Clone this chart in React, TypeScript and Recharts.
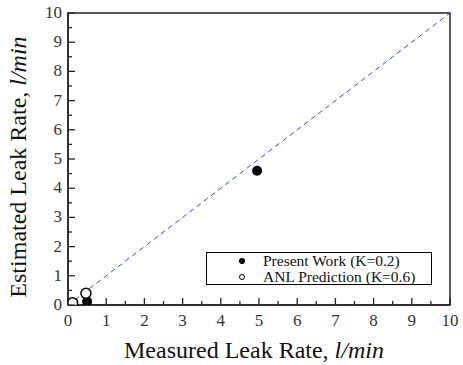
import React from "react";
import {
  ScatterChart,
  Scatter,
  XAxis,
  YAxis,
  ReferenceArea,
} from "recharts";

const allTicks = [0, 0.5, 1, 1.5, 2, 2.5, 3, 3.5, 4, 4.5, 5, 5.5, 6, 6.5, 7, 7.5, 8, 8.5, 9, 9.5, 10];

const presentWork = [
  { x: 0.5, y: 0.12 },
  { x: 4.95, y: 4.6 },
];
const anlPrediction = [
  { x: 0.12, y: 0.08 },
  { x: 0.47, y: 0.4 },
];
const idealLine = [
  { x: 0, y: 0 },
  { x: 10, y: 10 },
];

const serif = "'Liberation Serif', 'DejaVu Serif', serif";

function XTick(props: any) {
  const { x, y, payload } = props;
  const v = payload.value;
  const major = Number.isInteger(v);
  return (
    <g>
      <line x1={x} x2={x} y1={y} y2={y - (major ? 7 : 4)} stroke="#222" strokeWidth={1.3} />
      {major && (
        <text x={x} y={y + 21} textAnchor="middle" style={{ fontFamily: serif }} fontSize={17} fill="#333">
          {v}
        </text>
      )}
    </g>
  );
}

function YTick(props: any) {
  const { x, y, payload } = props;
  const v = payload.value;
  const major = Number.isInteger(v);
  return (
    <g>
      <line x1={x} x2={x + (major ? 7 : 4)} y1={y} y2={y} stroke="#222" strokeWidth={1.3} />
      {major && (
        <text x={x - 6} y={y + 5} textAnchor="end" style={{ fontFamily: serif }} fontSize={17} fill="#333">
          {v}
        </text>
      )}
    </g>
  );
}

const FilledDot = (p: any) => <circle cx={p.cx} cy={p.cy} r={5} fill="#000" />;
const OpenDot = (p: any) => (
  <circle cx={p.cx} cy={p.cy} r={5} fill="#fff" stroke="#000" strokeWidth={1.5} />
);

function LegendBox() {
  return (
    <div
      style={{
        position: "absolute",
        left: 206,
        top: 252,
        width: 226,
        height: 33,
        border: "1px solid #000",
        background: "#fff",
        fontFamily: serif,
        fontSize: 15.5,
        color: "#111",
        boxSizing: "border-box",
        lineHeight: "15px",
      }}
    >
      <div style={{ display: "flex", alignItems: "center", height: 15.5 }}>
        <svg width={56} height={15}>
          <circle cx={35} cy={8} r={3} fill="#000" />
        </svg>
        <span>Present Work (K=0.2)</span>
      </div>
      <div style={{ display: "flex", alignItems: "center", height: 15.5 }}>
        <svg width={56} height={15}>
          <circle cx={35} cy={8} r={2.5} fill="#fff" stroke="#000" strokeWidth={1} />
        </svg>
        <span>ANL Prediction (K=0.6)</span>
      </div>
    </div>
  );
}

export default function App() {
  return (
    <div style={{ width: 463, height: 365, background: "#fff", position: "relative" }}>
      <style>{"body{margin:0}"}</style>
      <ScatterChart width={463} height={365} margin={{ top: 13, right: 13, left: 0, bottom: 0 }}>
        <XAxis
          type="number"
          dataKey="x"
          domain={[0, 10]}
          ticks={allTicks}
          interval={0}
          tickSize={0}
          tickMargin={0}
          tickLine={false}
          tick={<XTick />}
          axisLine={{ stroke: "#222", strokeWidth: 1.5 }}
          height={60}
          allowDataOverflow
          label={{
            position: "insideBottom",
            content: (p: any) => {
              const vb = p.viewBox;
              return (
                <text x={vb.x + vb.width / 2 - 5} y={vb.y + 53} textAnchor="middle" style={{ fontFamily: serif }} fontSize={24} fill="#111">
                  Measured Leak Rate, <tspan fontStyle="italic">l/min</tspan>
                </text>
              );
            },
          }}
        />
        <YAxis
          type="number"
          dataKey="y"
          domain={[0, 10]}
          ticks={allTicks}
          interval={0}
          tickSize={0}
          tickMargin={0}
          tickLine={false}
          tick={<YTick />}
          axisLine={{ stroke: "#222", strokeWidth: 1.5 }}
          width={68}
          allowDataOverflow
          label={{
            position: "insideLeft",
            content: (p: any) => {
              const vb = p.viewBox;
              const cy = vb.y + vb.height / 2 + 8;
              return (
                <text x={26} y={cy} transform={`rotate(-90 26 ${cy})`} textAnchor="middle" style={{ fontFamily: serif }} fontSize={24} fill="#111">
                  Estimated Leak Rate, <tspan fontStyle="italic">l/min</tspan>
                </text>
              );
            },
          }}
        />
        <ReferenceArea x1={0} x2={10} y1={0} y2={10} fill="none" stroke="#222" strokeWidth={1.5} ifOverflow="visible" />
        <Scatter
          data={idealLine}
          line={{ stroke: "#3344dd", strokeDasharray: "5 4", strokeWidth: 1 }}
          shape={() => null}
          legendType="none"
          isAnimationActive={false}
        />
        <Scatter name="Present Work (K=0.2)" data={presentWork} shape={FilledDot} isAnimationActive={false} />
        <Scatter name="ANL Prediction (K=0.6)" data={anlPrediction} shape={OpenDot} isAnimationActive={false} />
      </ScatterChart>
      <LegendBox />
    </div>
  );
}
